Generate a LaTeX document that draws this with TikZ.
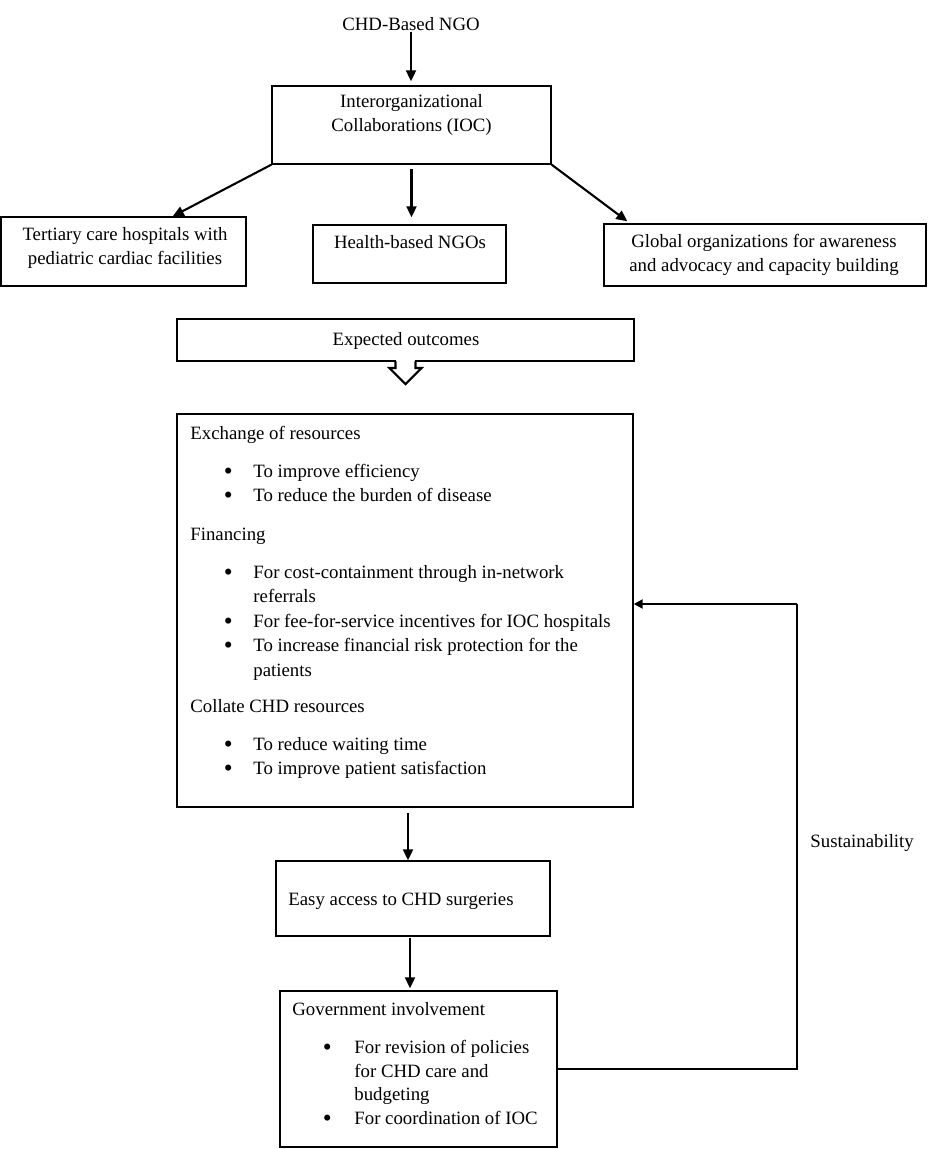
\documentclass[tikz,border=0pt]{standalone}
\usepackage{fontspec}
\setmainfont{Liberation Serif}
\usetikzlibrary{arrows.meta,fit,calc}
\newcommand\bul[1]{\llap{\raisebox{-1.1pt}{\scalebox{1.35}{\textbullet}}\hspace{#1}}}
\tikzset{
  box/.style={draw, line width=0.7pt, inner sep=0pt},
  thickbox/.style={draw, line width=1.1pt, inner sep=0pt},
  txt/.style={inner sep=0pt, font=\fontsize{9.4}{12}\selectfont},
  arr/.style={line width=1.05pt, -{Triangle[length=5.5pt,width=5pt]}},
  fbline/.style={line width=0.6pt},
  fbarr/.style={line width=1.1pt, -{Triangle[length=4.5pt,width=4.5pt]}},
}
\begin{document}
\begin{tikzpicture}[x=0.5pt,y=-0.5pt]
\useasboundingbox (0,0) rectangle (934,1149);

% top
\node[txt, anchor=base] (ngo) at (411,31) {CHD-Based NGO};
\node[box, fit={(272,86)(551,164)}] (ioc) {};
\node[txt, anchor=base] (ioct1) at (411.5,108) {Interorganizational};
\node[txt, anchor=base] (ioct2) at (411.5,132) {Collaborations (IOC)};

\node[box, fit={(1,217)(246,286)}] (tert) {};
\node[txt, anchor=base] (tertt1) at (125,241) {Tertiary care hospitals with};
\node[txt, anchor=base] (tertt2) at (125,265) {pediatric cardiac facilities};

\node[box, fit={(313,225)(506,283)}] (health) {};
\node[txt, anchor=base] (healtht) at (410,249) {Health-based NGOs};

\node[box, fit={(604,224)(926,286)}] (glob) {};
\node[txt, anchor=base] (globt1) at (764,248) {Global organizations for awareness};
\node[txt, anchor=base] (globt2) at (764,272) {and advocacy and capacity building};

\draw[arr] (ngo.south) -- ([yshift=2pt]ngo.south |- ioc.north);
\draw[arr] (ioc.south west) -- ($(tert.north west)!0.7!(tert.north east)$);
\draw[arr, shorten <=2pt, shorten >=3.5pt] (ioc.south) -- (ioc.south |- health.north);
\draw[arr] (ioc.south east) -- ($(glob.north west)+(24,-2)$);

% expected outcomes
\node[thickbox, fit={(177,319)(634,361)}] (exp) {};
\node[txt, anchor=base] (expt) at (406,346) {Expected outcomes};
\fill[white] ($(exp.south)+(-9.4,-3)$) rectangle ($(exp.south)+(9.4,6)$);
\draw[line width=1.1pt, line join=miter] ($(exp.south)+(-10,-0.6)$) -- ($(exp.south)+(-10,6)$) -- ($(exp.south)+(-16,6)$) -- ($(exp.south)+(0,22)$) -- ($(exp.south)+(16,6)$) -- ($(exp.south)+(10,6)$) -- ($(exp.south)+(10,-0.6)$);

% main box
\node[box, fit={(177,414)(633,807)}] (main) {};
\node[txt, anchor=base west] (m1) at (190,439) {Exchange of resources};
\node[txt, anchor=base west] (m2) at (253,477) {\bul{10.3pt}To improve efficiency};
\node[txt, anchor=base west] (m3) at (253,501.5) {\bul{10.3pt}To reduce the burden of disease};
\node[txt, anchor=base west] (m4) at (190,540) {Financing};
\node[txt, anchor=base west] (m5) at (253,578) {\bul{10.3pt}For cost-containment through in-network};
\node[txt, anchor=base west] (m6) at (253,602.5) {referrals};
\node[txt, anchor=base west] (m7) at (253,627) {\bul{10.3pt}For fee-for-service incentives for IOC hospitals};
\node[txt, anchor=base west] (m8) at (253,651.5) {\bul{10.3pt}To increase financial risk protection for the};
\node[txt, anchor=base west] (m9) at (253,676) {patients};
\node[txt, anchor=base west] (m10) at (190,712) {Collate CHD resources};
\node[txt, anchor=base west] (m11) at (253,750) {\bul{10.3pt}To reduce waiting time};
\node[txt, anchor=base west] (m12) at (253,774.5) {\bul{10.3pt}To improve patient satisfaction};

% easy access
\node[box, fit={(276,861)(550,936)}] (easy) {};
\node[txt, anchor=base west] (easyt) at (288,905) {Easy access to CHD surgeries};

% government
\node[box, fit={(280,991)(557,1147)}] (gov) {};
\node[txt, anchor=base west] (g1) at (292,1015) {Government involvement};
\node[txt, anchor=base west] (g2) at (354,1053) {\bul{11.3pt}For revision of policies};
\node[txt, anchor=base west] (g3) at (354,1077) {for CHD care and};
\node[txt, anchor=base west] (g4) at (354,1100.5) {budgeting};
\node[txt, anchor=base west] (g5) at (354,1124) {\bul{11.3pt}For coordination of IOC};

\draw[arr, shorten <=2.5pt] ([xshift=1.5pt]main.south) -- ([xshift=1.5pt]main.south |- easy.north);
\draw[arr, shorten <=0.5pt, shorten >=1pt] ([xshift=-1.5pt]easy.south) -- ([xshift=-1.5pt]easy.south |- gov.north);

% feedback
\coordinate (fbc) at (797,604);
\draw[fbline] (gov.east) -| (fbc);
\draw[fbarr] (fbc) -- (fbc -| main.east);
\node[txt, anchor=base west] (sus) at (810,847) {Sustainability};
\end{tikzpicture}
\end{document}
